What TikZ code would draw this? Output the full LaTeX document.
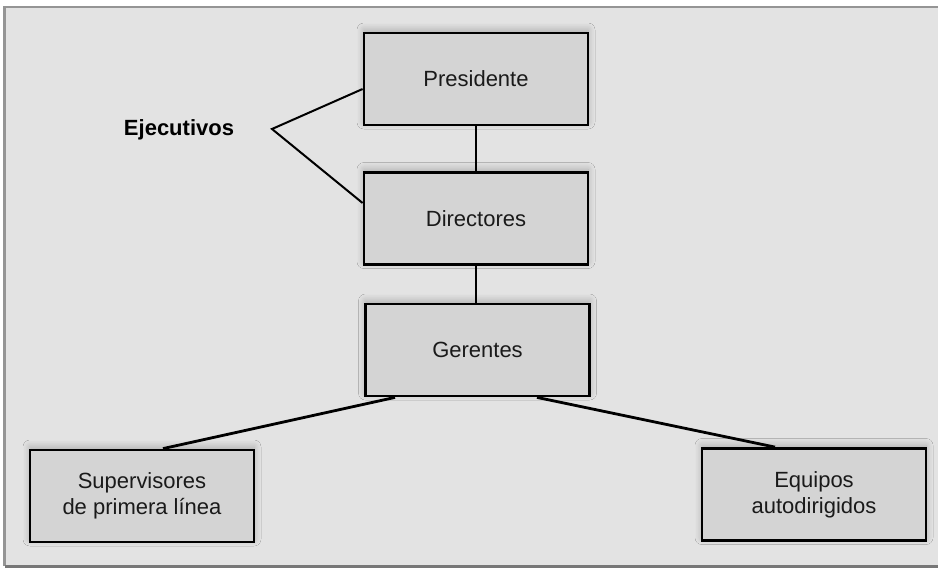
\documentclass[tikz,border=0pt]{standalone}
\usepackage{fontspec}
\setmainfont{Liberation Sans}
\usetikzlibrary{shadows.blur}
\definecolor{bg}{HTML}{E3E3E3}
\definecolor{boxfill}{HTML}{D4D4D4}
\definecolor{framegray}{HTML}{959595}
\definecolor{txt}{HTML}{1A1A1A}
\tikzset{
  orgbox/.style={draw=black, line width=2.8pt, fill=boxfill, minimum width=224pt, minimum height=92pt,
    inner sep=0pt, text=txt, font=\fontsize{22}{26}\selectfont, align=center,
    blur shadow={shadow xshift=0pt, shadow yshift=3pt, shadow blur radius=7pt, shadow opacity=25, shadow blur steps=12}},
  link/.style={draw=black, line width=2.8pt},
  brace/.style={draw=black, line width=2pt, line join=miter},
}
\begin{document}
\begin{tikzpicture}[x=1pt,y=-1pt]
\useasboundingbox (0,0) rectangle (938,568);
\fill[white] (0,0) rectangle (938,568);
\fill[bg] (4.5,7) rectangle (938,566);
\draw[framegray, line width=2.5pt] (4.5,566) -- (4.5,7) -- (938,7);
\draw[framegray!80!black, line width=3pt] (4.5,566.5) -- (938,566.5);

\node[orgbox] (pres) at (476,79) {Presidente};
\node[orgbox] (dir) at (476,218.5) {Directores};
\node[orgbox] (ger) at (477.5,350) {Gerentes};
\node[orgbox] (sup) at (142,496) {Supervisores\\de primera línea};
\node[orgbox] (equ) at (814,494.5) {Equipos\\autodirigidos};

\node[font=\fontsize{22}{26}\selectfont\bfseries, text=black] (ejec) at (179,130) {Ejecutivos};
\coordinate (apex) at (272,129);

\draw[link] (pres.south -| 476,0) -- (dir.north -| 476,0);
\draw[link] (dir.south -| 476,0) -- (ger.north -| 476,0);
\draw[link] (ger.south -| 395,0) -- (sup.north -| 163,0);
\draw[link] (ger.south -| 537,0) -- (equ.north -| 775,0);
\draw[brace] (pres.west |- 0,89) -- (apex) -- (dir.west |- 0,203);
\end{tikzpicture}
\end{document}
